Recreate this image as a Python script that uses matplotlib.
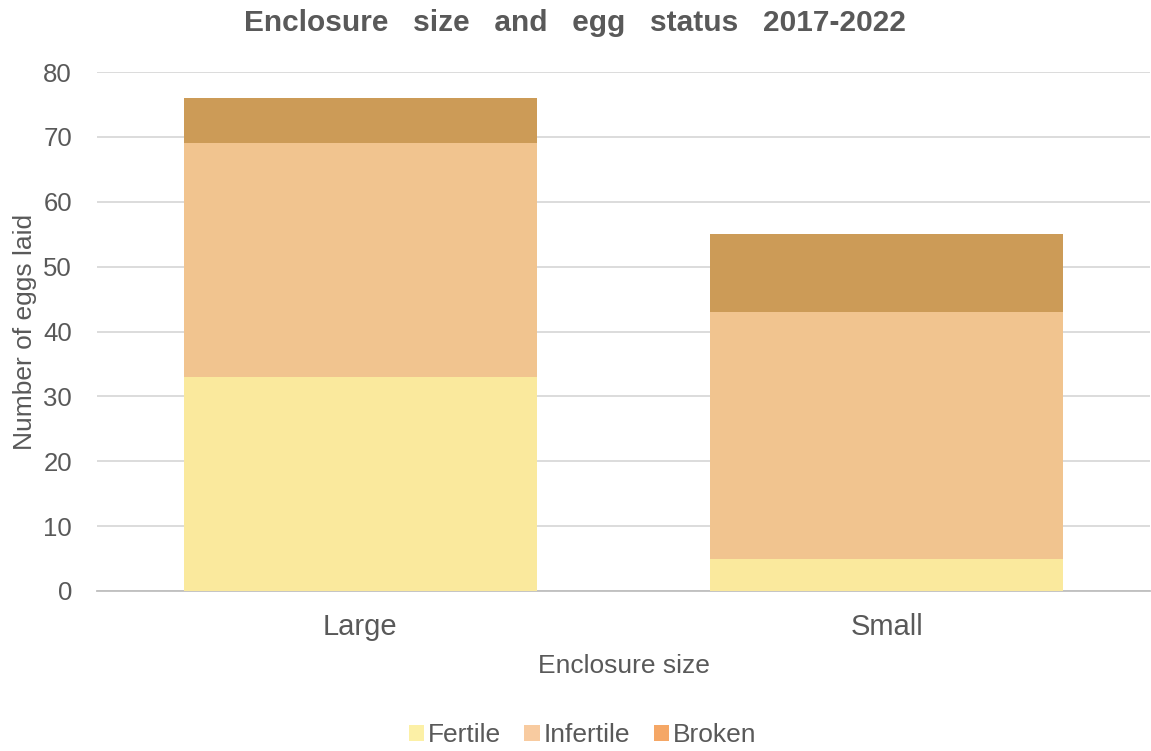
import matplotlib
matplotlib.use("Agg")
import matplotlib.pyplot as plt
from matplotlib.patches import Patch
import numpy as np

categories = ["Large", "Small"]
fertile = [33, 5]
infertile = [36, 38]
broken = [7, 12]
series_names = ["Fertile", "Infertile", "Broken"]
bar_colors = ["#FAE99D", "#F1C48F", "#CC9B57"]
legend_colors = ["#FCF0A6", "#F8CBA0", "#F5A766"]
yticks = [0, 10, 20, 30, 40, 50, 60, 70, 80]

plt.rcParams['font.family'] = ['Liberation Sans', 'DejaVu Sans']
txt = "#595959"

fig = plt.figure(figsize=(11.51, 7.51), dpi=100)
ax = fig.add_axes([97/1151, 1-591/751, 1053/1151, (591-72)/751])

x = np.arange(len(categories))
w = 0.67
ax.bar(x, fertile, w, color=bar_colors[0], zorder=3)
ax.bar(x, infertile, w, bottom=fertile, color=bar_colors[1], zorder=3)
bottom2 = [a + b for a, b in zip(fertile, infertile)]
ax.bar(x, broken, w, bottom=bottom2, color=bar_colors[2], zorder=3)

ax.set_xlim(-0.5, 1.5)
ax.set_ylim(0, 80)
ax.set_yticks(yticks)
ax.set_xticks(x)
ax.set_xticklabels(categories)
ax.yaxis.grid(True, color="#D9D9D9", linewidth=1.3, zorder=0)
for s in ["top", "right", "left"]:
    ax.spines[s].set_visible(False)
ax.spines["bottom"].set_color("#BFBFBF")
ax.spines["bottom"].set_linewidth(1.3)
ax.tick_params(axis="both", length=0, colors=txt)
ax.tick_params(axis="y", pad=18, labelsize=18.5)
ax.tick_params(axis="x", pad=16, labelsize=21)
ax.set_xlabel("Enclosure size", fontsize=19, color=txt, labelpad=9.5)
ax.set_ylabel("Number of eggs laid", fontsize=19, color=txt)
ax.yaxis.set_label_coords(-0.057, 0.5)

fig.text(0.4995, 0.969, "Enclosure   size   and   egg   status   2017-2022", ha="center", va="center",
         fontsize=21.5, fontweight="bold", color=txt)

handles = [Patch(facecolor=c, edgecolor="none") for c in legend_colors]
fig.legend(handles, series_names, loc="center", bbox_to_anchor=(0.506, 0.021), ncol=3,
           frameon=False, fontsize=19, labelcolor=txt, handlelength=0.57, handleheight=0.57,
           handletextpad=0.15, columnspacing=0.9)

fig.savefig("out.png", dpi=100)
